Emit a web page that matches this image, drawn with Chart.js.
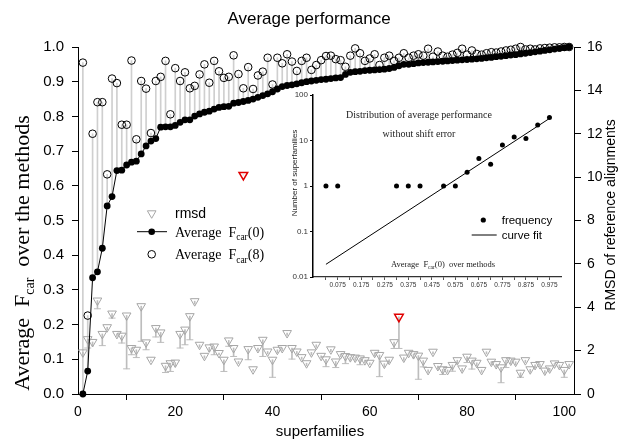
<!DOCTYPE html>
<html><head><meta charset="utf-8">
<script src="https://cdn.jsdelivr.net/npm/chart.js@4.4.1/dist/chart.umd.min.js"></script>
<style>
html,body{margin:0;padding:0;background:#fff;}
#wrap{position:relative;width:618px;height:440px;overflow:hidden;}
#main{position:absolute;left:0;top:0;}
#inset{position:absolute;left:283px;top:85px;}
</style></head><body>
<div id="wrap">
<canvas id="main" width="618" height="440"></canvas>
<canvas id="inset" width="290" height="210"></canvas>
</div>
<script>
// ---------- data ----------
const superfamilies = [1,2,3,4,5,6,7,8,9,10,11,12,13,14,15,16,17,18,19,20,
  21,22,23,24,25,26,27,28,29,30,31,32,33,34,35,36,37,38,39,40,
  41,42,43,44,45,46,47,48,49,50,51,52,53,54,55,56,57,58,59,60,
  61,62,63,64,65,66,67,68,69,70,71,72,73,74,75,76,77,78,79,80,
  81,82,83,84,85,86,87,88,89,90,91,92,93,94,95,96,97,98,99,100,101];

const fcar0 = [0.000,0.066,0.335,0.352,0.420,0.542,0.569,0.644,0.645,0.660,
  0.668,0.671,0.692,0.715,0.729,0.736,0.769,0.770,0.770,0.774,
  0.783,0.790,0.790,0.801,0.807,0.812,0.815,0.821,0.826,0.828,
  0.829,0.838,0.840,0.843,0.846,0.850,0.855,0.860,0.865,0.871,
  0.879,0.886,0.889,0.891,0.894,0.897,0.900,0.902,0.904,0.906,
  0.907,0.909,0.911,0.912,0.921,0.927,0.929,0.930,0.932,0.933,
  0.934,0.935,0.936,0.938,0.941,0.946,0.950,0.950,0.952,0.954,
  0.955,0.956,0.957,0.958,0.959,0.960,0.961,0.962,0.963,0.964,
  0.965,0.966,0.967,0.969,0.970,0.972,0.973,0.975,0.977,0.978,
  0.980,0.982,0.984,0.986,0.988,0.990,0.992,0.994,0.996,0.998,1.000];

const fcar8 = [0.955,0.226,0.750,0.841,0.841,0.633,0.909,0.896,0.776,0.776,
  0.961,0.734,0.902,0.880,0.752,0.902,0.914,0.960,0.806,0.939,
  0.902,0.927,0.881,0.888,0.921,0.950,0.897,0.960,0.930,0.911,
  0.914,0.976,0.922,0.881,0.942,0.879,0.918,0.929,0.969,0.892,
  0.969,0.953,0.979,0.958,0.931,0.960,0.969,0.934,0.948,0.962,
  0.974,0.975,0.965,0.962,0.943,0.975,0.996,0.982,0.960,0.967,
  0.979,0.948,0.969,0.975,0.960,0.969,0.982,0.969,0.975,0.979,
  0.975,0.995,0.972,0.987,0.975,0.972,0.978,0.983,0.995,0.978,
  0.990,0.980,0.978,0.982,0.985,0.984,0.987,0.990,0.992,0.995,
  1.000,0.993,0.995,0.993,0.996,0.997,0.998,0.999,0.999,1.000,1.000];

const rmsd = [1.92,2.53,2.40,4.31,2.77,3.08,3.71,2.77,2.69,3.62,
  2.12,2.04,4.05,2.38,1.58,3.04,2.84,1.30,1.42,1.45,
  2.77,2.97,3.59,4.28,2.27,1.76,2.15,2.19,1.89,1.58,
  2.47,2.12,1.50,10.1,2.07,1.14,2.12,2.50,1.96,1.58,
  2.04,2.12,2.81,2.12,1.96,1.70,1.42,1.92,2.27,1.76,
  1.60,2.06,1.50,1.84,1.75,1.70,1.68,1.64,1.56,1.44,
  1.90,1.80,1.40,1.58,2.39,3.56,1.68,1.90,1.84,1.77,
  1.54,1.11,1.95,1.29,1.14,1.11,1.34,1.56,1.18,1.72,
  1.54,1.44,1.11,1.95,1.49,1.38,1.23,1.56,1.54,1.49,
  0.98,1.56,1.14,1.34,1.38,1.08,1.18,1.41,1.34,1.11,1.38];

const rmsdLow = [1.75,2.12,2.20,3.93,2.23,2.95,3.50,2.65,2.35,1.16,
  1.81,1.68,2.43,2.04,1.50,2.63,2.38,0.99,1.04,1.27,
  2.12,2.27,2.50,4.15,2.15,1.65,1.95,1.81,1.80,1.04,
  2.20,1.73,1.40,10.1,1.58,1.05,2.00,1.73,1.85,0.77,
  1.90,2.00,2.70,1.61,1.85,1.60,1.30,1.80,2.15,1.65,
  1.26,1.95,1.22,1.72,1.40,1.55,1.55,1.35,1.45,1.35,
  1.75,0.80,1.25,1.45,2.10,2.10,1.55,1.80,1.65,0.68,
  1.25,1.00,1.85,1.15,0.90,1.00,1.05,1.40,1.05,1.45,
  1.15,1.30,1.00,1.85,1.35,1.25,0.52,1.22,1.40,1.35,
  0.77,1.45,1.00,1.20,1.25,0.95,1.05,1.30,1.20,0.77,1.25];

const highlighted = [34, 66];

// inset: distribution of average Fcar(0)
const insetBins = [0.025,0.075,0.325,0.375,0.425,0.525,0.575,0.625,0.675,0.725,0.775,0.825,0.875,0.925,0.975];
const insetFreq = [1,1,1,1,1,1,1,2,4,3,8,12,11,22,32];
const fitX = [0.025, 0.975];
const fitY = [0.019, 30.5];
const insetXTicks = [0.025,0.075,0.125,0.175,0.225,0.275,0.325,0.375,0.425,0.475,0.525,0.575,0.625,0.675,0.725,0.775,0.825,0.875,0.925,0.975];
const insetXTickLabels = ['','0.075','','0.175','','0.275','','0.375','','0.475','','0.575','','0.675','','0.775','','0.875','','0.975'];
const insetYTicks = [0.01,0.1,1,10,100];
const insetYTickLabels = ['0.01','0.1','1','10','100'];

// ---------- styles ----------
const SANS = '"Liberation Sans", Arial, sans-serif';
const SERIF = '"Liberation Serif", "Times New Roman", serif';
const GREY_TRI = '#a6a6a6';
const GREY_ERR = '#bdbdbd';
const GREY_DROP = '#cfcfcf';

function richText(ctx, parts, x, y, rot, align) {
  ctx.save();
  ctx.translate(x, y);
  ctx.rotate(rot);
  let total = 0;
  parts.forEach(p => { ctx.font = p.font; p.w = ctx.measureText(p.t).width; total += p.w; });
  let cx = align === 'center' ? -total / 2 : 0;
  ctx.textBaseline = 'alphabetic';
  ctx.textAlign = 'left';
  parts.forEach(p => { ctx.font = p.font; ctx.fillStyle = p.color || '#000'; ctx.fillText(p.t, cx, p.dy || 0); cx += p.w; });
  ctx.restore();
}

const mainText = {
  id: 'mainText',
  afterDraw(chart) {
    const ctx = chart.ctx;
    // left axis title
    richText(ctx, [
      {t: 'Average  F', font: '22px ' + SERIF},
      {t: 'car', font: '14px ' + SERIF, dy: 5},
      {t: '  over the methods', font: '22px ' + SERIF}
    ], 29, 253, -Math.PI / 2, 'center');
    // right axis title
    richText(ctx, [{t: 'RMSD of reference alignments', font: '14px ' + SANS}], 615, 215, -Math.PI / 2, 'center');
    // bottom axis title
    richText(ctx, [{t: 'superfamilies', font: '15px ' + SANS}], 320, 436, 0, 'center');

    // legend symbols
    ctx.save();
    ctx.strokeStyle = GREY_TRI; ctx.lineWidth = 1;
    ctx.beginPath();
    const r = 5, tx = 151.7, ty = 213.3;
    ctx.moveTo(tx, ty + r);
    ctx.lineTo(tx - r * 0.866, ty - r * 0.5);
    ctx.lineTo(tx + r * 0.866, ty - r * 0.5);
    ctx.closePath();
    ctx.stroke();
    ctx.strokeStyle = '#000';
    ctx.beginPath(); ctx.moveTo(137, 231.7); ctx.lineTo(167, 231.7); ctx.stroke();
    ctx.fillStyle = '#000';
    ctx.beginPath(); ctx.arc(151.7, 231.7, 3.3, 0, Math.PI * 2); ctx.fill();
    ctx.beginPath(); ctx.arc(151.7, 254.3, 3.8, 0, Math.PI * 2); ctx.stroke();
    ctx.restore();
    richText(ctx, [{t: 'rmsd', font: '14px ' + SANS}], 175, 218, 0, 'left');
    richText(ctx, [
      {t: 'Average  F', font: '14px ' + SERIF},
      {t: 'car', font: '9.5px ' + SERIF, dy: 3.5},
      {t: '(0)', font: '14px ' + SERIF}
    ], 175, 236.5, 0, 'left');
    richText(ctx, [
      {t: 'Average  F', font: '14px ' + SERIF},
      {t: 'car', font: '9.5px ' + SERIF, dy: 3.5},
      {t: '(8)', font: '14px ' + SERIF}
    ], 175, 259, 0, 'left');
  }
};

const isHi = x => highlighted.indexOf(x) >= 0;

new Chart(document.getElementById('main'), {
  type: 'scatter',
  data: {
    datasets: [
      {
        label: 'drop', type: 'bar', order: 7, grouped: false, barThickness: 1, clip: false,
        data: superfamilies.map((x, i) => ({x: x, y: [fcar0[i], fcar8[i]]})),
        backgroundColor: GREY_DROP, borderWidth: 0, xAxisID: 'x', yAxisID: 'y'
      },
      {
        label: 'rmsd error', type: 'bar', order: 6, grouped: false, barThickness: 1, clip: false,
        data: superfamilies.map((x, i) => ({x: x, y: [rmsdLow[i], rmsd[i]]})),
        backgroundColor: GREY_ERR, borderWidth: 0, xAxisID: 'x', yAxisID: 'y2'
      },
      {
        label: 'rmsd cap', type: 'scatter', order: 5, clip: false,
        data: superfamilies.map((x, i) => ({x: x, y: rmsdLow[i]})).filter((p, i) => rmsd[i] - rmsdLow[i] > 0.2),
        pointStyle: 'line', pointRadius: 3.5, borderColor: GREY_ERR, borderWidth: 1, yAxisID: 'y2'
      },
      {
        label: 'rmsd', type: 'scatter', order: 4, clip: false,
        data: superfamilies.map((x, i) => ({x: x, y: rmsd[i]})),
        pointStyle: 'triangle', rotation: 180, pointRadius: 5,
        pointBorderColor: superfamilies.map(x => isHi(x) ? '#e00000' : GREY_TRI),
        pointBorderWidth: superfamilies.map(x => isHi(x) ? 1.5 : 1),
        pointBackgroundColor: 'rgba(255,255,255,0)', yAxisID: 'y2'
      },
      {
        label: 'Average Fcar(0)', type: 'line', order: 2, clip: false,
        data: superfamilies.map((x, i) => ({x: x, y: fcar0[i]})),
        borderColor: '#000', borderWidth: 1, tension: 0, fill: false,
        pointRadius: 3.4, pointBackgroundColor: '#000', pointBorderColor: '#000', pointBorderWidth: 0,
        yAxisID: 'y'
      },
      {
        label: 'Average Fcar(8)', type: 'scatter', order: 1, clip: false,
        data: superfamilies.map((x, i) => ({x: x, y: fcar8[i]})),
        pointRadius: 3.8, pointBorderColor: '#000', pointBorderWidth: 1,
        pointBackgroundColor: 'rgba(255,255,255,0)', yAxisID: 'y'
      }
    ]
  },
  options: {
    responsive: false, animation: false, devicePixelRatio: 1,
    layout: {padding: 0},
    plugins: {
      legend: {display: false}, tooltip: {enabled: false},
      title: {display: true, text: 'Average performance', color: '#000',
        font: {family: SANS, size: 17, weight: 'normal'}, padding: {top: 9, bottom: 17.6}}
    },
    scales: {
      x: {
        type: 'linear', position: 'bottom', min: 0, max: 102, offset: false,
        afterFit(s) { s.height = 46; },
        ticks: {stepSize: 20, includeBounds: false, maxRotation: 0, autoSkip: false,
          font: {family: SANS, size: 14}, color: '#000', padding: 4},
        grid: {display: true, drawOnChartArea: false, drawTicks: true, tickLength: 6, color: '#000', lineWidth: 1},
        border: {display: true, color: '#000', width: 1}
      },
      y: {
        type: 'linear', position: 'left', min: 0, max: 1,
        afterFit(s) { s.width = 78; },
        ticks: {stepSize: 0.1, callback: v => v.toFixed(1), font: {family: SANS, size: 15}, color: '#000', padding: 8},
        grid: {display: true, drawOnChartArea: false, drawTicks: true, tickLength: 6, color: '#000', lineWidth: 1},
        border: {display: true, color: '#000', width: 1}
      },
      y2: {
        type: 'linear', position: 'right', min: 0, max: 16,
        afterFit(s) { s.width = 44; },
        ticks: {stepSize: 2, font: {family: SANS, size: 14}, color: '#000', padding: 6},
        grid: {display: true, drawOnChartArea: false, drawTicks: true, tickLength: 7, color: '#000', lineWidth: 1},
        border: {display: true, color: '#000', width: 1}
      }
    }
  },
  plugins: [mainText]
});

// ---------- inset ----------
const insetText = {
  id: 'insetText',
  afterDraw(chart) {
    const ctx = chart.ctx;
    richText(ctx, [{t: 'Distribution of average performance', font: '10px ' + SERIF, color: '#222'}], 136, 33, 0, 'center');
    richText(ctx, [{t: 'without shift error', font: '10px ' + SERIF, color: '#222'}], 136, 52, 0, 'center');
    richText(ctx, [{t: 'Number of superfamilies', font: '8px ' + SANS, color: '#222'}], 14, 88, -Math.PI / 2, 'center');
    richText(ctx, [
      {t: 'Average  F', font: '8.5px ' + SERIF, color: '#222'},
      {t: 'car', font: '5.5px ' + SERIF, dy: 2, color: '#222'},
      {t: '(0)  over methods', font: '8.5px ' + SERIF, color: '#222'}
    ], 160, 182, 0, 'center');
    ctx.save();
    ctx.fillStyle = '#000';
    ctx.beginPath(); ctx.arc(200.3, 135, 2.6, 0, Math.PI * 2); ctx.fill();
    ctx.strokeStyle = '#000'; ctx.lineWidth = 1;
    ctx.beginPath(); ctx.moveTo(188.7, 150); ctx.lineTo(213.7, 150); ctx.stroke();
    ctx.restore();
    richText(ctx, [{t: 'frequency', font: '11.5px ' + SANS}], 218.7, 139, 0, 'left');
    richText(ctx, [{t: 'curve fit', font: '11.5px ' + SANS}], 218.7, 154, 0, 'left');
  }
};

new Chart(document.getElementById('inset'), {
  type: 'scatter',
  data: {
    datasets: [
      {
        label: 'frequency', type: 'scatter', clip: false,
        data: insetBins.map((x, i) => ({x: x, y: insetFreq[i]})),
        pointRadius: 2.5, pointBackgroundColor: '#000', pointBorderWidth: 0
      },
      {
        label: 'curve fit', type: 'line', clip: false,
        data: fitX.map((x, i) => ({x: x, y: fitY[i]})),
        borderColor: '#000', borderWidth: 1, pointRadius: 0, tension: 0, fill: false
      }
    ]
  },
  options: {
    responsive: false, animation: false, devicePixelRatio: 1,
    layout: {padding: {top: 10, right: 11.3, left: 0, bottom: 0}},
    plugins: {legend: {display: false}, tooltip: {enabled: false}, title: {display: false}},
    scales: {
      x: {
        type: 'linear', min: -0.03, max: 1.027, offset: false,
        afterFit(s) { s.height = 18; },
        afterBuildTicks(s) { s.ticks = insetXTicks.map(v => ({value: v})); },
        ticks: {callback: (v, i) => insetXTickLabels[i], autoSkip: false, maxRotation: 0,
          font: {family: SANS, size: 6.5}, color: '#333', padding: 1},
        grid: {display: true, drawOnChartArea: false, drawTicks: true, tickLength: 3, color: '#555', lineWidth: 1},
        border: {display: true, color: '#333', width: 1.3}
      },
      y: {
        type: 'logarithmic', min: 0.01, max: 100,
        afterFit(s) { s.width = 30; },
        afterBuildTicks(s) { s.ticks = insetYTicks.map(v => ({value: v})); },
        ticks: {callback: (v, i) => insetYTickLabels[i], autoSkip: false,
          font: {family: SANS, size: 8}, color: '#333', padding: 2},
        grid: {display: true, drawOnChartArea: false, drawTicks: true, tickLength: 3, color: '#000', lineWidth: 1},
        border: {display: true, color: '#000', width: 1.5}
      }
    }
  },
  plugins: [insetText]
});
</script>
</body></html>
